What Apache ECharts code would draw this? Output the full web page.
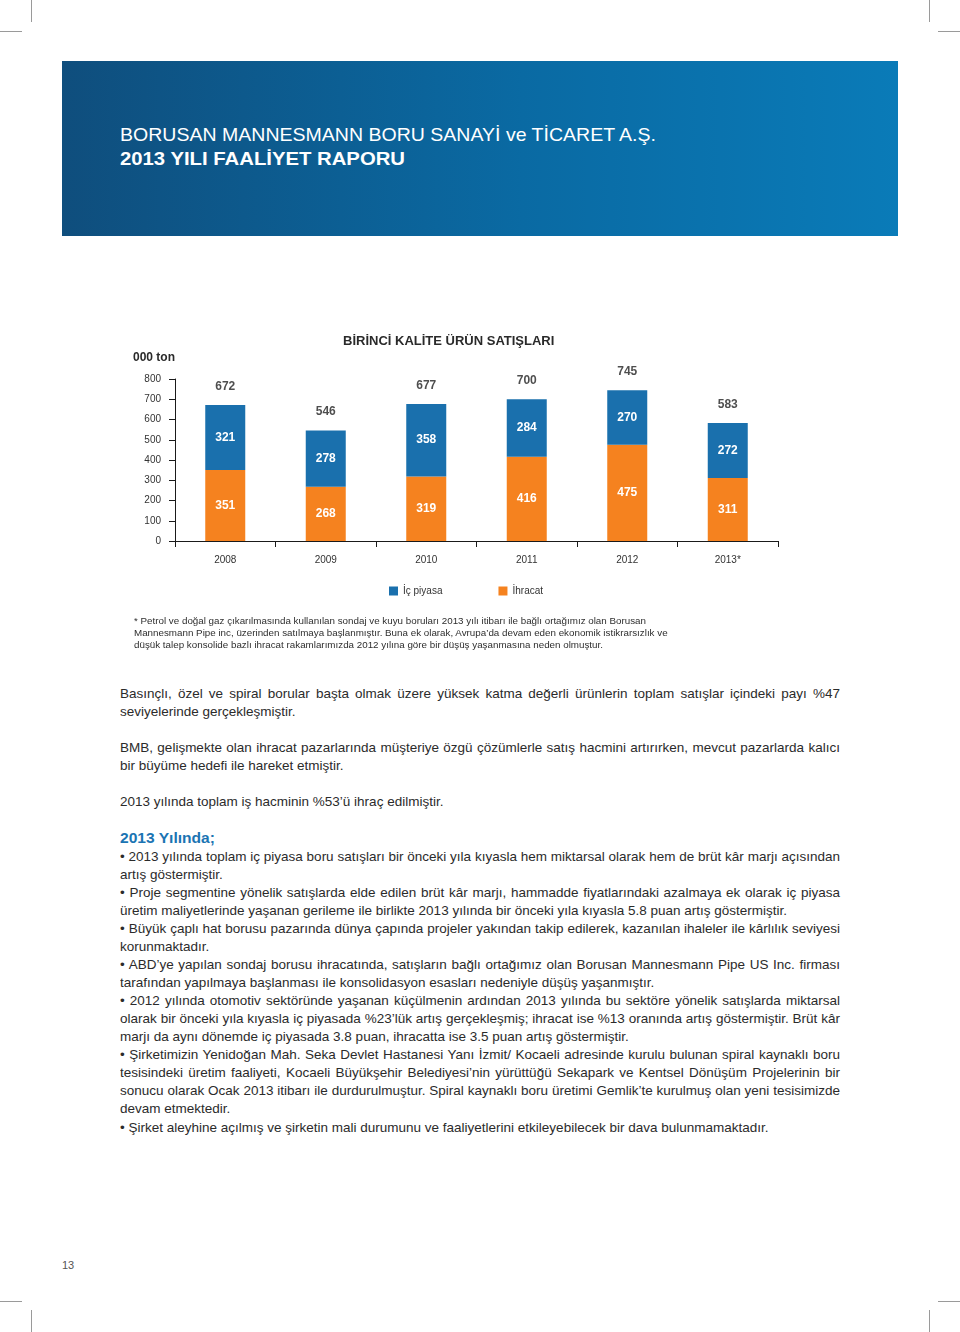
<!DOCTYPE html>
<html>
<head>
<meta charset="utf-8">
<script src="https://cdn.jsdelivr.net/npm/echarts@6/dist/echarts.min.js"></script>
<style>
  html, body { margin:0; padding:0; background:#fff; }
  body { width:960px; height:1332px; position:relative; overflow:hidden; font-family:"Liberation Sans", Arial, sans-serif; color:#2b2b2b; }
  .mark { position:absolute; background:#9a9a9a; }
  #header { position:absolute; left:62px; top:61px; width:836px; height:175px;
            background:linear-gradient(to right, #0f4e7d 0%, #0a6aa3 55%, #0a7bb8 100%); }
  .hline { position:absolute; left:120px; color:#fff; font-size:19px; line-height:24px; white-space:nowrap; transform-origin:left center; }
  #chart { position:absolute; left:0; top:300px; width:960px; height:320px; }
  .fn { position:absolute; left:134px; font-size:9px; line-height:12px; color:#2e2e2e; white-space:nowrap; transform-origin:left center; }
  .bl { position:absolute; left:120px; font-size:13px; line-height:18px; height:18px; color:#2b2b2b; transform-origin:left center; }
  .bl.j { text-align:justify; text-align-last:justify; }
  .hd { position:absolute; left:120px; font-size:15px; line-height:18px; font-weight:bold; color:#1b74b3; white-space:nowrap; transform-origin:left center; }
  #pg { position:absolute; left:62px; top:1259px; font-size:11px; color:#555; }
</style>
</head>
<body>
<div class="mark" style="left:31px;top:0;width:1px;height:22px"></div>
<div class="mark" style="left:0;top:31px;width:22px;height:1px"></div>
<div class="mark" style="left:929px;top:0;width:1px;height:22px"></div>
<div class="mark" style="left:938px;top:31px;width:22px;height:1px"></div>
<div class="mark" style="left:0;top:1301px;width:22px;height:1px"></div>
<div class="mark" style="left:31px;top:1310px;width:1px;height:22px"></div>
<div class="mark" style="left:938px;top:1301px;width:22px;height:1px"></div>
<div class="mark" style="left:929px;top:1310px;width:1px;height:22px"></div>

<div id="header"></div>
<div class="hline" id="h1" data-w="536" style="top:123px">BORUSAN MANNESMANN BORU SANAYİ ve TİCARET A.Ş.</div>
<div class="hline" id="h2" data-w="285" style="top:147px;font-weight:bold">2013 YILI FAALİYET RAPORU</div>

<div id="chart"></div>

<div class="fn" style="top:615px">* Petrol ve doğal gaz çıkarılmasında kullanılan sondaj ve kuyu boruları 2013 yılı itibarı ile bağlı ortağımız olan Borusan</div>
<div class="fn" style="top:627px">Mannesmann Pipe inc, üzerinden satılmaya başlanmıştır. Buna ek olarak, Avrupa’da devam eden ekonomik istikrarsızlık ve</div>
<div class="fn" style="top:639px">düşük talep konsolide bazlı ihracat rakamlarımızda 2012 yılına göre bir düşüş yaşanmasına neden olmuştur.</div>

<div id="body"></div>
<div id="pg">13</div>

<script>
// ---- chart data ----
const years = ['2008', '2009', '2010', '2011', '2012', '2013*'];
const icPiyasa = [321, 278, 358, 284, 270, 272];
const ihracat = [351, 268, 319, 416, 475, 311];
const totals = [672, 546, 677, 700, 745, 583];
const legendNames = ['İç piyasa', 'İhracat'];
const chartTitle = 'BİRİNCİ KALİTE ÜRÜN SATIŞLARI';
const unitLabel = '000 ton';

// ---- page text ----
const bodyLines = [
  [685, 'j', 'Basınçlı, özel ve spiral borular başta olmak üzere yüksek katma değerli ürünlerin toplam satışlar içindeki payı %47'],
  [703, '', 'seviyelerinde gerçekleşmiştir.'],
  [739, 'j', 'BMB, gelişmekte olan ihracat pazarlarında müşteriye özgü çözümlerle satış hacmini artırırken, mevcut pazarlarda kalıcı'],
  [757, '', 'bir büyüme hedefi ile hareket etmiştir.'],
  [793, '', '2013 yılında toplam iş hacminin %53’ü ihraç edilmiştir.'],
  [848, 'j', '• 2013 yılında toplam iç piyasa boru satışları bir önceki yıla kıyasla hem miktarsal olarak hem de brüt kâr marjı açısından'],
  [866, '', 'artış göstermiştir.'],
  [884, 'j', '• Proje segmentine yönelik satışlarda elde edilen brüt kâr marjı, hammadde fiyatlarındaki azalmaya ek olarak iç piyasa'],
  [902, '', 'üretim maliyetlerinde yaşanan gerileme ile birlikte 2013 yılında bir önceki yıla kıyasla 5.8 puan artış göstermiştir.'],
  [920, 'j', '• Büyük çaplı hat borusu pazarında dünya çapında projeler yakından takip edilerek, kazanılan ihaleler ile kârlılık seviyesi'],
  [938, '', 'korunmaktadır.'],
  [956, 'j', '• ABD’ye yapılan sondaj borusu ihracatında, satışların bağlı ortağımız olan Borusan Mannesmann Pipe US Inc. firması'],
  [974, '', 'tarafından yapılmaya başlanması ile konsolidasyon esasları nedeniyle düşüş yaşanmıştır.'],
  [992, 'j', '• 2012 yılında otomotiv sektöründe yaşanan küçülmenin ardından 2013 yılında bu sektöre yönelik satışlarda miktarsal'],
  [1010, 'j', 'olarak bir önceki yıla kıyasla iç piyasada %23’lük artış gerçekleşmiş; ihracat ise %13 oranında artış göstermiştir. Brüt kâr'],
  [1028, '', 'marjı da aynı dönemde iç piyasada 3.8 puan, ihracatta ise 3.5 puan artış göstermiştir.'],
  [1046, 'j', '• Şirketimizin Yenidoğan Mah. Seka Devlet Hastanesi Yanı İzmit/ Kocaeli adresinde kurulu bulunan spiral kaynaklı boru'],
  [1064, 'j', 'tesisindeki üretim faaliyeti, Kocaeli Büyükşehir Belediyesi’nin yürüttüğü Sekapark ve Kentsel Dönüşüm Projelerinin bir'],
  [1082, 'j', 'sonucu olarak Ocak 2013 itibarı ile durdurulmuştur. Spiral kaynaklı boru üretimi Gemlik’te kurulmuş olan yeni tesisimizde'],
  [1100, '', 'devam etmektedir.'],
  [1119, '', '• Şirket aleyhine açılmış ve şirketin mali durumunu ve faaliyetlerini etkileyebilecek bir dava bulunmamaktadır.']
];

const bodyEl = document.getElementById('body');
const lineEls = [];
bodyLines.forEach(function (l) {
  const d = document.createElement('div');
  d.className = 'bl';
  d.style.top = l[0] + 'px';
  d.style.whiteSpace = 'nowrap';
  const sp = document.createElement('span');
  sp.textContent = l[2];
  d.appendChild(sp);
  bodyEl.appendChild(d);
  lineEls.push({ d: d, sp: sp, j: l[1] === 'j' });
});
const hd = document.createElement('div');
hd.className = 'hd';
hd.style.top = '829px';
hd.textContent = '2013 Yılında;';
bodyEl.appendChild(hd);

// uniform horizontal scale: last line's width matched to the page, justified lines must fit 720px
let maxW = 0;
lineEls.forEach(function (o) { if (o.j) maxW = Math.max(maxW, o.sp.getBoundingClientRect().width); });
const lastW = lineEls[lineEls.length - 1].sp.getBoundingClientRect().width;
const s = Math.min(653 / lastW, 719 / maxW);
lineEls.forEach(function (o) {
  o.d.style.transform = 'scaleX(' + s + ')';
  if (o.j) {
    o.d.style.whiteSpace = 'normal';
    o.d.style.width = (720 / s) + 'px';
    o.d.classList.add('j');
  }
});
hd.style.transform = 'scaleX(' + s + ')';

// header lines to their widths
['h1', 'h2'].forEach(function (id) {
  const e = document.getElementById(id);
  const w = e.getBoundingClientRect().width;
  e.style.transform = 'scaleX(' + (parseFloat(e.dataset.w) / w) + ')';
});
// footnote: uniform scale from first line
const fns = document.querySelectorAll('.fn');
const fs = 512 / fns[0].getBoundingClientRect().width;
fns.forEach(function (e) { e.style.transform = 'scaleX(' + fs + ')'; });

// ---- chart ----
const BLUE = '#1a70ad';
const ORANGE = '#f5821f';
const FONT = 'Liberation Sans';
const chart = echarts.init(document.getElementById('chart'), null, { renderer: 'canvas' });
chart.setOption({
  animation: false,
  textStyle: { fontFamily: FONT },
  title: {
    text: chartTitle,
    left: 338, top: 30,
    textStyle: { fontFamily: FONT, fontSize: 13, fontWeight: 'bold', color: '#2a2a2a' }
  },
  legend: {
    data: legendNames,
    top: 281, left: 384,
    icon: 'rect', itemWidth: 9, itemHeight: 9, itemGap: 56,
    textStyle: { fontFamily: FONT, fontSize: 10, color: '#333' }
  },
  grid: { left: 175, top: 79, width: 603, height: 162, containLabel: false },
  xAxis: {
    type: 'category',
    data: years,
    boundaryGap: true,
    axisLine: { lineStyle: { color: '#1a1a1a', width: 1 } },
    axisTick: { show: true, length: 6, lineStyle: { color: '#1a1a1a' } },
    axisLabel: { fontFamily: FONT, fontSize: 10, color: '#333', margin: 14 }
  },
  yAxis: {
    type: 'value',
    min: 0, max: 800, interval: 100,
    name: unitLabel,
    nameLocation: 'end',
    nameGap: 15,
    nameTextStyle: { fontFamily: FONT, fontSize: 12, fontWeight: 'bold', color: '#2a2a2a', align: 'right' },
    axisLine: { show: true, lineStyle: { color: '#1a1a1a', width: 1 } },
    axisTick: { show: true, length: 6, lineStyle: { color: '#1a1a1a' } },
    axisLabel: { fontFamily: FONT, fontSize: 10, color: '#333', margin: 14 },
    splitLine: { show: false }
  },
  series: [
    {
      name: 'İhracat', type: 'bar', stack: 'sales', barWidth: 40,
      data: ihracat,
      itemStyle: { color: ORANGE },
      label: { show: true, position: 'inside', color: '#fff', fontWeight: 'bold', fontSize: 12, fontFamily: FONT }
    },
    {
      name: 'İç piyasa', type: 'bar', stack: 'sales', barWidth: 40,
      data: icPiyasa,
      itemStyle: { color: BLUE },
      label: { show: true, position: 'inside', color: '#fff', fontWeight: 'bold', fontSize: 12, fontFamily: FONT }
    },
    {
      name: 'Toplam', type: 'scatter',
      data: totals,
      symbolSize: 1,
      itemStyle: { color: 'rgba(0,0,0,0)' },
      label: { show: true, position: 'top', distance: 12, color: '#222', fontWeight: 'bold', fontSize: 12, fontFamily: FONT },
      silent: true
    }
  ]
});
</script>
</body>
</html>
